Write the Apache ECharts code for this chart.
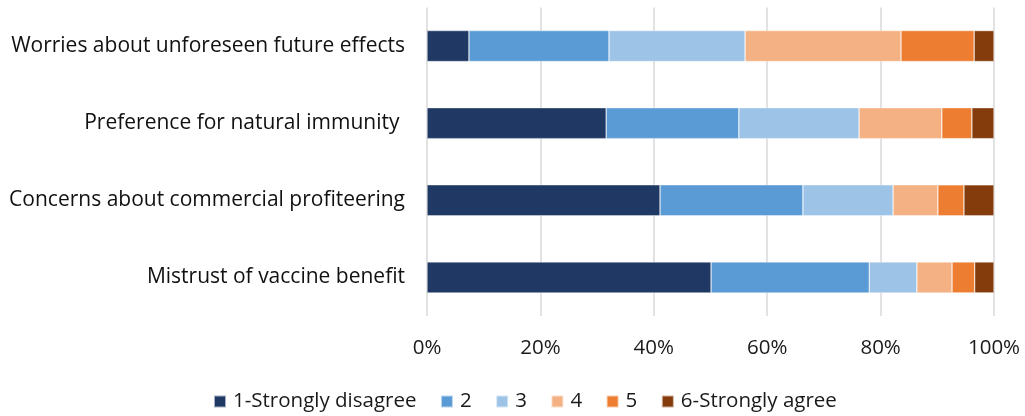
<!DOCTYPE html>
<html><head><meta charset="utf-8">
<script src="https://cdn.jsdelivr.net/npm/echarts@6/dist/echarts.min.js"></script>
<style>html,body{margin:0;padding:0;background:#fff}#c{width:1025px;height:416px}</style>
</head><body><div id="c"></div>
<script>
const categories = ["Worries about unforeseen future effects","Preference for natural immunity ","Concerns about commercial profiteering","Mistrust of vaccine benefit"];
const seriesNames = ["1-Strongly disagree","2","3","4","5","6-Strongly agree"];
const s1 = [7.4, 31.6, 41.1, 50.1];
const s2 = [24.7, 23.4, 25.2, 27.9];
const s3 = [24.0, 21.2, 15.9, 8.4];
const s4 = [27.5, 14.6, 7.9, 6.2];
const s5 = [12.9, 5.3, 4.6, 4.0];
const s6 = [3.5, 3.9, 5.3, 3.4];
const xTicks = [0, 20, 40, 60, 80, 100];
const colors = ["#203864","#5B9BD5","#9DC3E6","#F4B183","#ED7D31","#843C0C"];
const values = [s1,s2,s3,s4,s5,s6];
const font = "Open Sans";
const chart = echarts.init(document.getElementById('c'));
chart.setOption({
  animation:false,
  color: colors,
  textStyle:{fontFamily:font},
  grid:{left:427,right:31,top:7.5,height:308.5,containLabel:false},
  legend:{top:386,left:208,itemWidth:12,itemHeight:12,itemGap:23.5,
    textStyle:{fontFamily:font,fontSize:20.5,color:'#1a1a1a',padding:[0,0,0,2]},
    icon:'rect', data:seriesNames},
  xAxis:{type:'value',min:0,max:100,interval:20,
    axisLine:{show:false},axisTick:{show:false},
    splitLine:{lineStyle:{color:'#d9d9d9',width:1.5}},
    axisLabel:{margin:22,fontSize:20.5,color:'#1a1a1a',fontFamily:font,
      formatter:v=>xTicks.includes(v)?v+'%':''}},
  yAxis:{type:'category',inverse:true,data:categories,
    axisLine:{show:false},axisTick:{show:false},
    axisLabel:{margin:22,fontSize:21,color:'#111',fontFamily:font}},
  series: seriesNames.map((n,i)=>({name:n,type:'bar',stack:'all',barWidth:31,
    itemStyle:{color:colors[i],borderColor:'rgba(255,255,255,0.6)',borderWidth:0.6},
    data:values[i]}))
});
</script></body></html>
